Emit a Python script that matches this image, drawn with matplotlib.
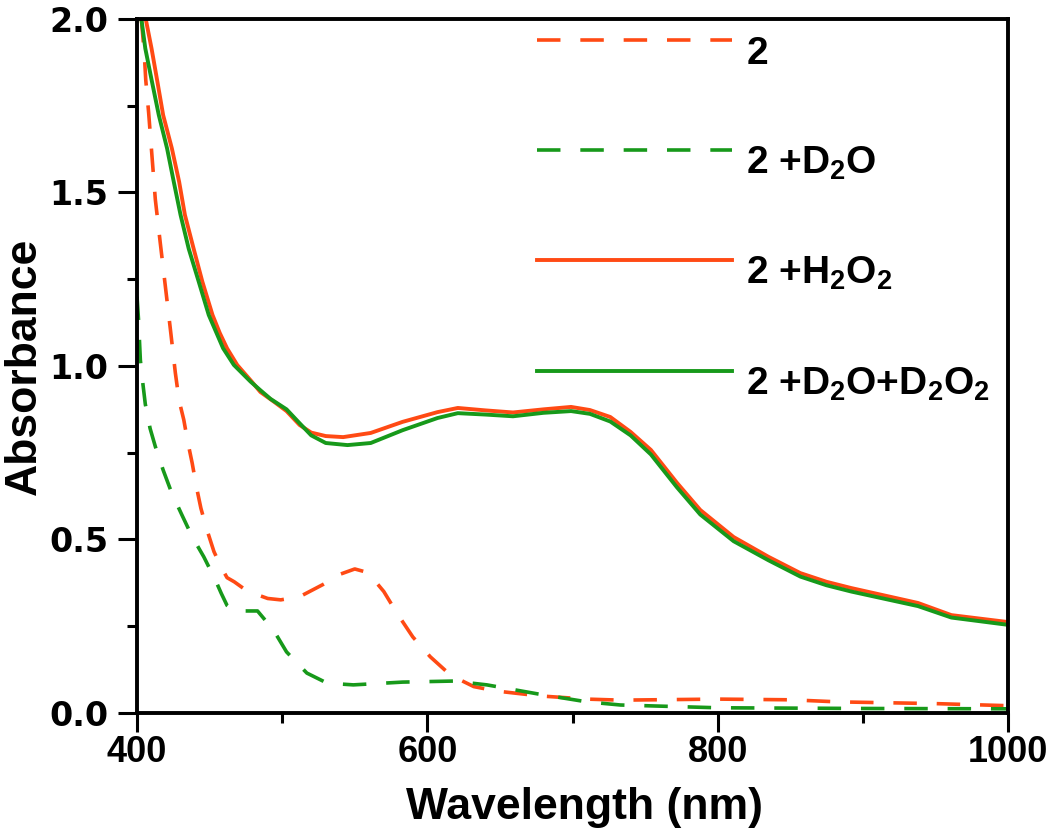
import matplotlib
matplotlib.use("Agg")
import numpy as np
import matplotlib.pyplot as plt
from matplotlib.ticker import MultipleLocator
from matplotlib.legend_handler import HandlerLine2D

plt.rcParams['font.family'] = ['Liberation Sans', 'DejaVu Sans']
plt.rcParams['font.weight'] = 'bold'
plt.rcParams['mathtext.default'] = 'regular'

# sample 2 (dashed red)
wl_2 = [403, 405, 406, 408, 410.3, 412.6, 416, 419.5, 423, 426.4, 429, 432.2, 435, 438, 441, 444,
        448, 453, 458, 462, 467, 473, 480, 490, 499, 512, 528, 540, 550, 557, 565, 570, 579, 590,
        602, 616, 632, 648, 678, 710, 733, 800, 850, 883, 950, 1000]
abs_2 = [2.0, 1.9, 1.825, 1.73, 1.605, 1.48, 1.355, 1.23, 1.105, 0.98, 0.9, 0.845, 0.78, 0.72,
         0.65, 0.59, 0.53, 0.465, 0.42, 0.39, 0.378, 0.36, 0.345, 0.33, 0.326, 0.335, 0.37, 0.40,
         0.415, 0.407, 0.375, 0.35, 0.288, 0.219, 0.162, 0.109, 0.076, 0.063, 0.049, 0.04, 0.037,
         0.04, 0.038, 0.032, 0.027, 0.021]

# sample 2 + D2O (dashed green)
wl_2d = [400, 401, 402.3, 404, 405.7, 409, 412.6, 418, 424, 431, 438, 446, 454, 458, 462, 467,
         483, 494, 503, 517, 531, 549, 583, 618, 641, 676, 710, 733, 800, 900, 1000]
abs_2d = [1.2, 1.135, 1.017, 0.95, 0.89, 0.82, 0.768, 0.70, 0.633, 0.57, 0.508, 0.45, 0.383,
          0.345, 0.31, 0.294, 0.294, 0.239, 0.176, 0.115, 0.086, 0.081, 0.089, 0.092, 0.081,
          0.055, 0.032, 0.023, 0.015, 0.013, 0.012]

# sample 2 + H2O2 (solid red)
wl_h = [406, 410, 414, 418, 424, 429, 433, 439, 445, 452, 457, 462, 469, 479, 485, 495, 503,
        512, 520, 530, 542, 561, 583, 607, 621, 640, 659, 680, 699, 712, 726, 740, 754, 772,
        788, 811, 835, 857, 875, 892, 938, 961, 1000]
abs_h = [2.0, 1.915, 1.82, 1.723, 1.627, 1.531, 1.435, 1.338, 1.243, 1.147, 1.095, 1.051, 1.003,
         0.955, 0.925, 0.895, 0.87, 0.83, 0.808, 0.798, 0.795, 0.807, 0.839, 0.867, 0.879,
         0.872, 0.866, 0.875, 0.882, 0.873, 0.853, 0.81, 0.758, 0.663, 0.585, 0.507, 0.45,
         0.403, 0.378, 0.36, 0.317, 0.282, 0.262]

# sample 2 + D2O + D2O2 (solid green)
wl_dd = [403, 405.7, 410.3, 415, 420.7, 425.3, 430, 435.6, 442.5, 449.4, 459.3, 466.7, 478.2,
         485, 492, 503, 512, 520, 530, 545, 561, 583, 607, 621, 640, 659, 680, 699, 712, 726,
         740, 754, 772, 788, 811, 835, 857, 875, 892, 938, 961, 1000]
abs_dd = [2.0, 1.915, 1.819, 1.723, 1.627, 1.531, 1.435, 1.338, 1.243, 1.147, 1.051, 1.003,
          0.955, 0.93, 0.905, 0.875, 0.835, 0.80, 0.778, 0.772, 0.778, 0.815, 0.850, 0.864,
          0.860, 0.855, 0.865, 0.870, 0.862, 0.84, 0.80, 0.745, 0.65, 0.572, 0.495, 0.44,
          0.393, 0.368, 0.35, 0.308, 0.275, 0.254]

red = '#FF4A14'
green = '#17991A'


class RaisedLine(HandlerLine2D):
    # legend key sits level with the top of the label text
    def create_artists(self, legend, orig_handle, xdescent, ydescent, width, height,
                       fontsize, trans):
        arts = super().create_artists(legend, orig_handle, xdescent, ydescent, width,
                                      height, fontsize, trans)
        for a in arts:
            a.set_ydata(np.asarray(a.get_ydata()) + 0.26 * fontsize)
        return arts


fig = plt.figure(figsize=(10.5, 8.39), dpi=100)
ax = fig.add_axes([0.1305, 0.1502, 0.8295, 0.8272])

ax.plot(wl_2, abs_2, color=red, lw=2.6, dashes=(6.5, 5.5), label='2')
ax.plot(wl_2d, abs_2d, color=green, lw=2.6, dashes=(6.5, 5.5), label='2 +D$_2$O')
ax.plot(wl_h, abs_h, color=red, lw=2.8, label='2 +H$_2$O$_2$')
ax.plot(wl_dd, abs_dd, color=green, lw=2.8, label='2 +D$_2$O+D$_2$O$_2$')

ax.set_xlim(400, 1000)
ax.set_ylim(0, 2.0)
ax.xaxis.set_major_locator(MultipleLocator(200))
ax.xaxis.set_minor_locator(MultipleLocator(100))
ax.yaxis.set_major_locator(MultipleLocator(0.5))
ax.yaxis.set_minor_locator(MultipleLocator(0.25))
ax.yaxis.set_major_formatter(plt.FormatStrFormatter('%.1f'))

for s in ax.spines.values():
    s.set_linewidth(2.8)
ax.tick_params(which='major', direction='out', length=13.5, width=2.2)
ax.tick_params(which='minor', direction='out', length=7, width=2.2)
ax.tick_params(axis='x', which='major', labelsize=26, pad=2)
ax.tick_params(axis='y', which='major', pad=7)
for lab in ax.get_yticklabels():
    lab.set_fontfamily('DejaVu Sans')
    lab.set_fontsize(24)
    lab.set_fontweight('bold')

ax.set_xlabel('Wavelength (nm)', fontsize=32, fontweight='bold')
ax.set_ylabel('Absorbance', fontsize=32, fontweight='bold', labelpad=3)
ax.xaxis.set_label_coords(0.514, -0.107)

ax.legend(loc='upper left', bbox_to_anchor=(0.459, 0.976), frameon=False,
          fontsize=28, handlelength=5.03, handletextpad=0.36,
          labelspacing=1.88, borderpad=0, borderaxespad=0,
          handler_map={matplotlib.lines.Line2D: RaisedLine()})

fig.savefig('out.png', dpi=100)
